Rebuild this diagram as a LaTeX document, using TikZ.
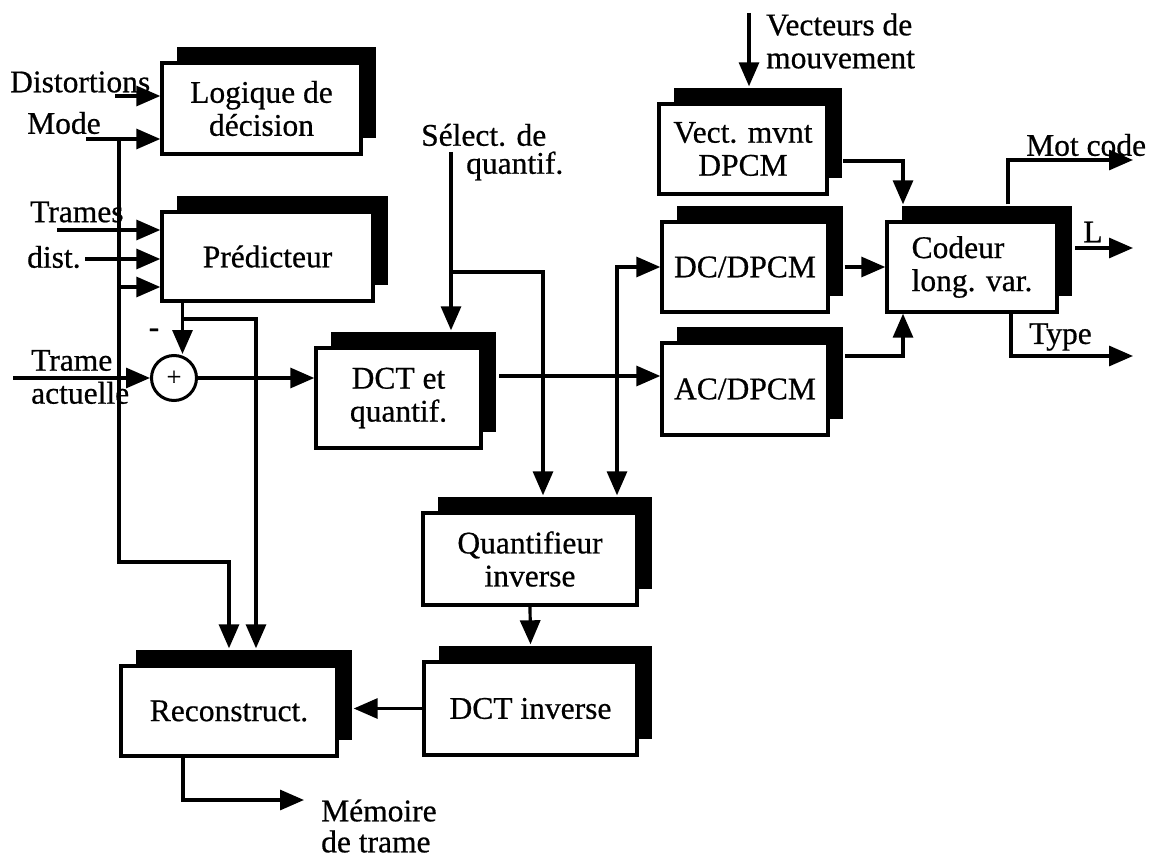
\documentclass[tikz,border=0pt]{standalone}
\usepackage{fontspec}
\setmainfont[FakeBold=0.6]{Liberation Serif}
\usetikzlibrary{arrows.meta,shadows}
\begin{document}
\begin{tikzpicture}[x=1pt,y=-1pt,
  every node/.style={font=\fontsize{31.5}{33}\selectfont, inner sep=0pt},
  blk/.style={draw=black, fill=white, line width=3.4pt, align=center,
     drop shadow={shadow xshift=15pt, shadow yshift=16pt, fill=black, opacity=1}},
  conn/.style={line width=3.2pt},
  arr/.style={conn, -{Triangle[length=24pt,width=20pt]}},
  lbl/.style={anchor=west, align=left}]
\fill[white] (0,0) rectangle (1150,858);
\useasboundingbox (0,0) rectangle (1150,858);

% blocks
\node[blk, minimum width=199pt, minimum height=91pt] (logic) at (261.5,108.5) {Logique de\\décision};
\node[blk, minimum width=211pt, minimum height=89pt] (pred) at (267.5,256.5) {Prédicteur};
\node[blk, minimum width=165pt, minimum height=100pt] (dct) at (398.5,398) {DCT et\\quantif.};
\node[blk, minimum width=214pt, minimum height=92pt] (qinv) at (530,559) {Quantifieur\\inverse};
\node[blk, minimum width=213pt, minimum height=93pt] (dctinv) at (530.5,708.5) {DCT inverse};
\node[blk, minimum width=216pt, minimum height=90pt] (recon) at (229,711) {Reconstruct.};
\node[blk, minimum width=168pt, minimum height=90pt] (vect) at (743,149) {Vect. mvnt\\DPCM};
\node[blk, minimum width=166pt, minimum height=90pt] (dc) at (745,267) {DC/DPCM};
\node[blk, minimum width=166pt, minimum height=92pt] (ac) at (745,389) {AC/DPCM};
\node[blk, minimum width=170pt, minimum height=90pt, align=left] (coder) at (972,267) {Codeur\\long. var.};
\node[draw, circle, line width=3pt, minimum size=45pt, font=\fontsize{26}{26}\selectfont] (sum) at (174,378) {+};

% labels
\node[lbl] (tdist) at (10,82) {Distortions};
\node[lbl] (tmode) at (27,123) {Mode};
\node[lbl] (ttrames) at (30,212) {Trames};
\node[lbl] (tdst) at (27,257) {dist.};
\node[lbl] (tact) at (31,377) {Trame\\actuelle};
\node (tminus) at (154,333) {-};
\node[lbl] (tsel1) at (421,135) {Sélect. de};
\node[lbl] (tsel2) at (466,166) {quantif.};
\node[lbl] (tvec) at (766,41) {Vecteurs de\\mouvement};
\node[lbl] (tmot) at (1026,145) {Mot code};
\node (tL) at (1093,232) {L};
\node[lbl] (ttype) at (1029,337) {Type};
\node[lbl, font=\fontsize{31.5}{31}\selectfont] (tmem) at (321,826) {Mémoire\\de trame};

% connectors: left side
\coordinate (distin) at (115,96);
\draw[arr] (distin) -- (distin -| logic.west);
\coordinate (modein) at (86,139);
\draw[arr] (modein) -- (modein -| logic.west);
\coordinate (mj) at (119,139);
\coordinate (mk) at (119,562);
\coordinate (r1) at ([yshift=16pt]recon.north);
\draw[arr] (mj) -- (mk) -| (r1);
\coordinate (p3) at (119,287);
\draw[arr] (p3) -- (p3 -| pred.west);
\coordinate (trin) at (57,230);
\draw[arr] (trin) -- (trin -| pred.west);
\coordinate (dsin) at (85,259);
\draw[arr] (dsin) -- (dsin -| pred.west);
\coordinate (pj) at ([xshift=-85pt]pred.south);
\draw[arr] (pj) -- (pj |- sum.north);
\coordinate (fb) at (182.5,319);
\coordinate (r2) at ([xshift=27pt,yshift=16pt]recon.north);
\draw[arr] (fb) -| (r2);
\coordinate (tain) at (13,378);
\draw[arr] (tain) -- (sum.west);
\draw[arr] (sum.east) -- (sum.east -| dct.west);

% middle
\coordinate (dout) at (499,376);
\draw[arr] (dout) -- (dout -| ac.west);
\coordinate (j2) at (617,376);
\coordinate (qtop) at ([yshift=16pt]qinv.north);
\draw[arr] (j2) |- (dc.west);
\draw[arr] (j2) -- (j2 |- qtop);
\coordinate (sel) at (451,152);
\coordinate (dtop) at ([yshift=16pt]dct.north);
\draw[arr] (sel) -- (sel |- dtop);
\coordinate (j1) at (451,272);
\coordinate (j1b) at (543,272);
\draw[arr] (j1) -- (j1b) -- (j1b |- qtop);
\draw[arr] (qinv.south) -- ([yshift=16pt]dctinv.north);
\coordinate (rr) at ([xshift=15pt]recon.east);
\draw[arr] (dctinv.west) -- (dctinv.west -| rr);
\coordinate (ro) at ([xshift=-46pt]recon.south);
\coordinate (mem) at (304,800);
\draw[arr] (ro) |- (mem);

% right side
\coordinate (vin) at (749,13);
\coordinate (vtop) at ([yshift=16pt]vect.north);
\draw[arr] (vin) -- (vin |- vtop);
\coordinate (vo) at (843,161);
\coordinate (ctop) at ([xshift=-69pt,yshift=16pt]coder.north);
\draw[arr] (vo) -| (ctop);
\coordinate (dcr) at ([xshift=15pt]dc.east);
\draw[arr] (dcr) -- (coder.west);
\coordinate (ao) at (845,356);
\coordinate (cb) at ([xshift=-69pt]coder.south);
\draw[arr] (ao) -| (cb);
\coordinate (mc) at ([xshift=36pt,yshift=16pt]coder.north);
\coordinate (mcend) at (1133,160);
\draw[arr] (mc) |- (mcend);
\coordinate (lo) at (1075,248);
\coordinate (lend) at (1133,248);
\draw[arr] (lo) -- (lend);
\coordinate (to) at ([xshift=39pt]coder.south);
\coordinate (tend) at (1133,356);
\draw[arr] (to) |- (tend);
\end{tikzpicture}
\end{document}
